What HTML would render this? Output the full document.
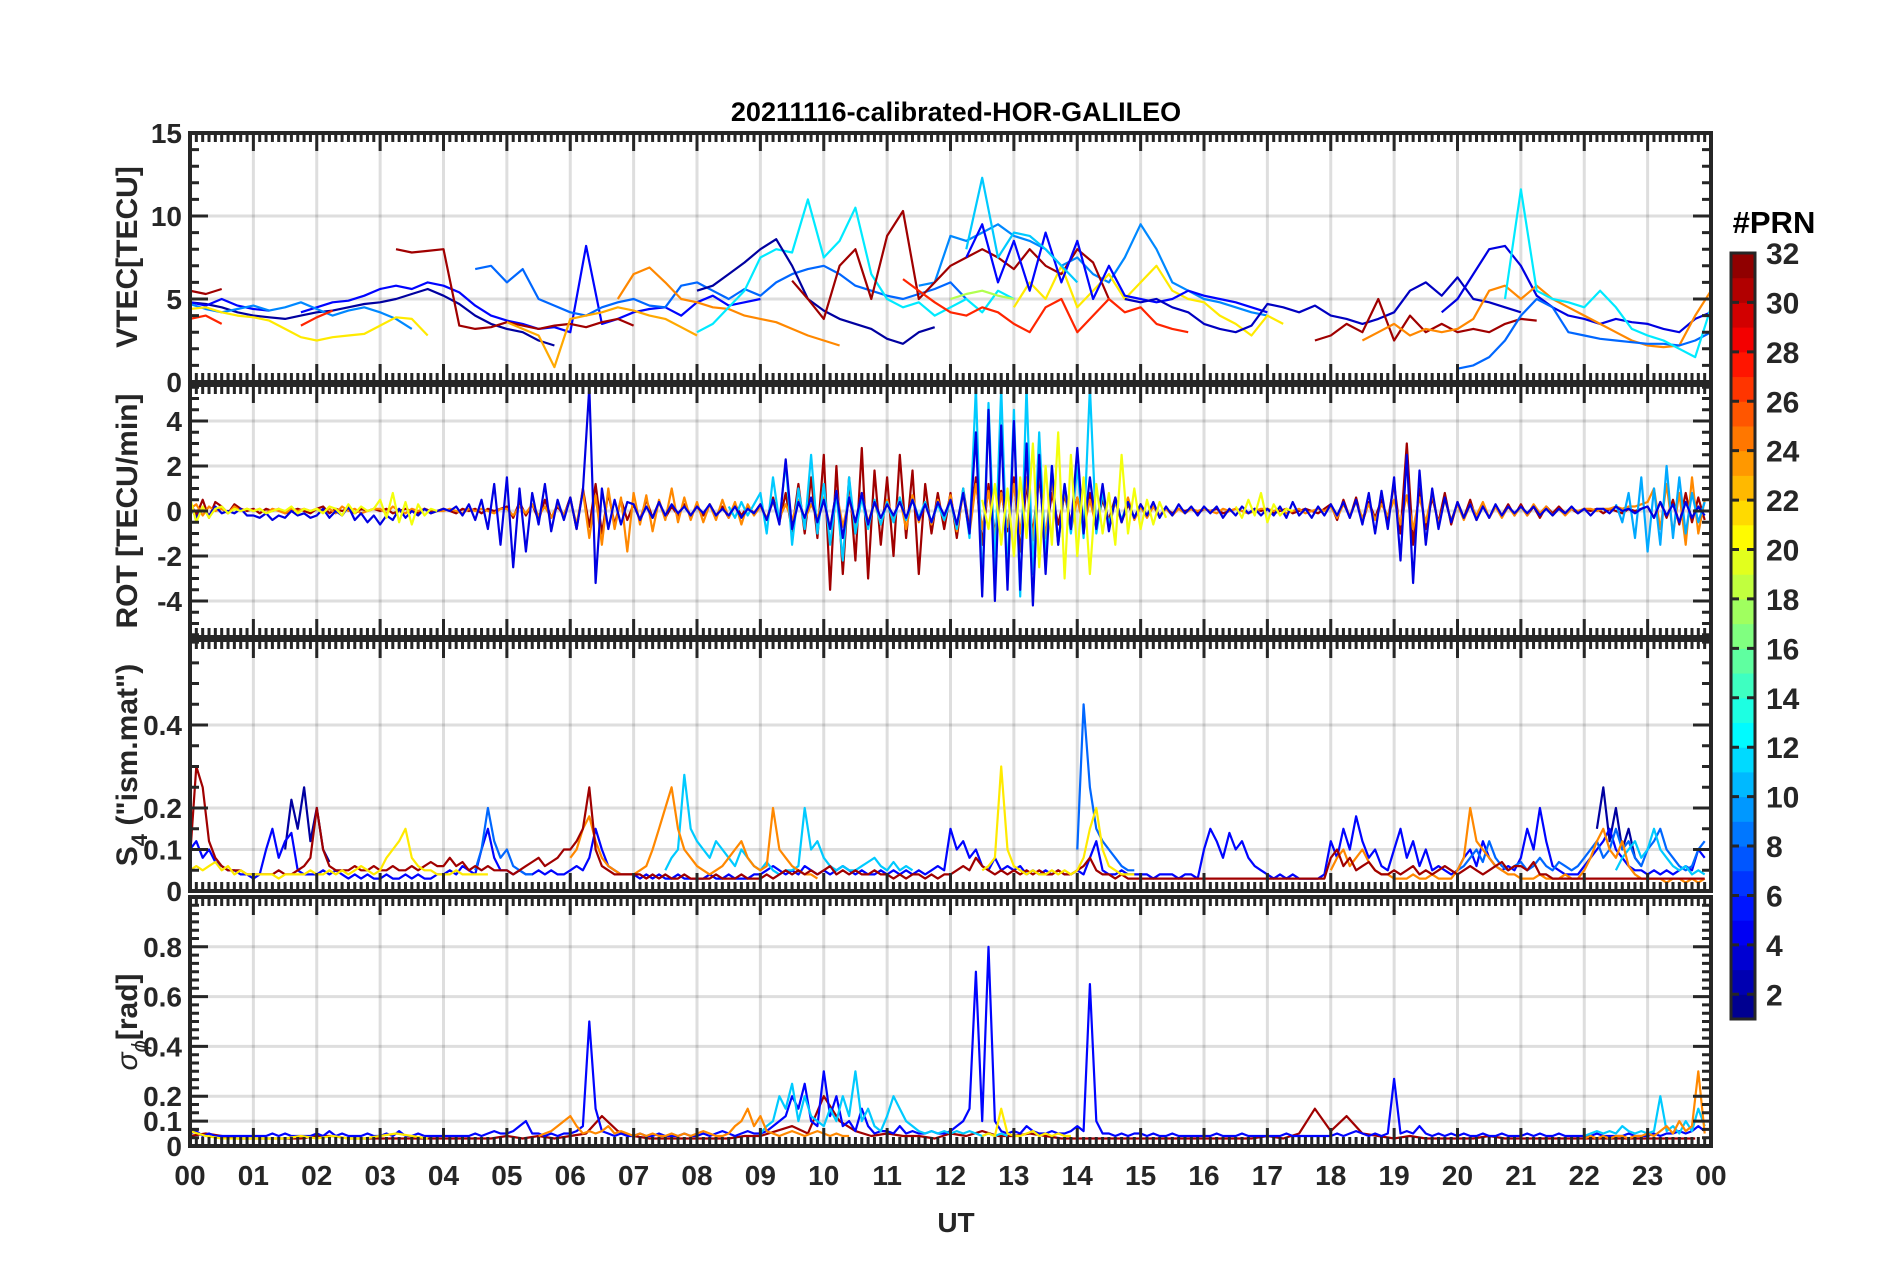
<!DOCTYPE html>
<html><head><meta charset="utf-8"><style>
html,body{margin:0;padding:0;background:#fff;}
svg{display:block;font-family:"Liberation Sans",sans-serif;}
</style></head><body>
<svg id="fig" width="1902" height="1272" viewBox="0 0 1902 1272" xmlns="http://www.w3.org/2000/svg">
<rect x="0" y="0" width="1902" height="1272" fill="#fff"/>
<text x="956" y="121" text-anchor="middle" font-size="27" font-weight="bold" fill="#000">20211116-calibrated-HOR-GALILEO</text>
<text x="956" y="1232" text-anchor="middle" font-size="28" font-weight="bold" fill="#262626">UT</text>
<text transform="translate(137,257) rotate(-90)" text-anchor="middle" font-size="30" font-weight="bold" fill="#262626">VTEC[TECU]</text>
<text transform="translate(137,511) rotate(-90)" text-anchor="middle" font-size="30" font-weight="bold" fill="#262626">ROT [TECU/min]</text>
<text transform="translate(137,765) rotate(-90)" text-anchor="middle" font-size="30" font-weight="bold" fill="#262626">S<tspan dy="10" font-size="22">4</tspan><tspan dy="-10"> ("ism.mat")</tspan></text>
<text transform="translate(137,1022) rotate(-90)" text-anchor="middle" font-size="30" font-weight="bold" fill="#262626"><tspan font-weight="normal" font-style="italic">σ</tspan><tspan dy="10" font-size="22" font-style="italic" font-weight="normal">ϕ</tspan><tspan dy="-10">[rad]</tspan></text>
<text x="1774" y="233" text-anchor="middle" font-size="31" font-weight="bold" fill="#000">#PRN</text>
<g id="grids"></g>
<g id="series"></g>
<g id="axes"></g>
<g id="cbar"></g>
</svg>
<script>
// ---------- data (hours, values) ----------
// VTEC segments, step 0.25 h
const vtecPrn   = [2,5,5,9,21,31,31,27,27,8,9,23,24,12,2,31,27,18,21,5,3,4,31,24,8,12,11];
const vtecStart = [0,0,1.75,0,0,0,3.25,0,1.75,4.5,11.5,5.0,6.75,8.0,8.0,9.5,11.25,12.0,13.0,12.25,14.75,19.75,17.75,18.5,20.0,20.75,12.25];
const vtecValues = [
 [4.8,4.7,4.5,4.2,4.0,3.9,3.8,4.0,4.2,4.3,4.5,4.7,4.8,5.0,5.3,5.6,5.2,4.7,4.0,3.5,3.2,3.0,2.5,2.2],
 [4.8,4.6,5.0,4.6,4.4,4.3],
 [4.2,4.5,4.8,4.9,5.2,5.6,5.8,5.6,6.0,5.8,5.4,4.6,4.0,3.7,3.5,3.2,3.3,3.0,8.2,3.5,3.8,4.2,4.4,4.5,4.0,4.8,5.2,4.6,4.8,5.0],
 [4.7,4.4,4.2,4.4,4.6,4.3,4.5,4.8,4.4,4.0,4.3,4.5,4.2,3.8,3.2],
 [4.4,4.5,4.2,4.0,3.9,3.7,3.2,2.7,2.5,2.7,2.8,2.9,3.4,3.9,3.8,2.8],
 [5.5,5.3,5.6],
 [8.0,7.8,7.9,8.0,3.4,3.2,3.3,3.6,3.4,3.2,3.4,3.5,3.3,3.6,3.8,3.4],
 [3.8,4.0,3.5],
 [3.4,3.9,4.3],
 [6.8,7.0,6.0,6.8,5.0,4.6,4.2,4.0,4.5,4.8,5.0,4.6,4.5,5.8,6.0,5.5,5.0,5.6,5.2,6.0,6.5,6.8,7.0,6.5,5.8,5.5,5.2,5.0,5.3,5.6,6.0,5.0],
 [5.8,6.0,8.8,8.5,9.0,9.5,8.8,8.5,8.0,7.0,7.5,6.5,6.0,7.5,9.5,8.0,6.0,5.5,5.0,4.8,4.5,4.2,4.0],
 [3.6,3.2,2.8,0.9,3.8,4.0,4.2,4.5,4.3,4.0,3.8,3.3,2.8],
 [5.0,6.5,6.9,6.0,5.0,4.8,4.5,4.4,4.0,3.8,3.6,3.2,2.8,2.5,2.2],
 [3.0,3.5,4.5,5.5,7.5,8.0,7.8,11.0,7.5,8.5,10.5,6.5,5.0,4.5,4.8,4.0,4.5,5.0,4.2,5.5,5.0],
 [5.5,5.8,6.5,7.2,8.0,8.6,7.0,5.0,4.3,3.8,3.5,3.2,2.6,2.3,3.0,3.3],
 [6.1,5.0,3.8,7.0,8.0,5.0,8.8,10.3,5.0,6.0,7.0,7.5,8.0,7.5,6.8,8.0,7.0,6.5,8.0,7.2,5.0],
 [6.2,5.5,4.8,4.2,4.0,4.5,4.2,3.5,3.0,4.5,5.0,3.0,4.0,5.0,4.2,4.5,3.5,3.2,3.0],
 [5.0,5.3,5.5,5.2,5.0],
 [4.5,6.0,5.0,7.0,4.5,5.5,6.5,5.0,6.0,7.0,5.5,5.0,4.8,4.0,3.5,2.8,4.0,3.5],
 [7.5,9.5,6.0,8.5,5.5,9.0,6.0,8.5,5.0,7.0,5.2,5.0,4.8,5.0,5.5,5.2,5.0,4.8,4.5,4.2],
 [5.0,4.8,5.0,4.5,4.2,3.5,3.2,3.0,3.4,4.7,4.5,4.2,4.6,4.0,3.8,3.5,3.8,4.2,5.5,6.0,5.2,6.3,5.0,4.8,4.5,4.2],
 [4.2,5.0,6.5,8.0,8.2,7.0,5.2,4.5,4.0,3.8,3.5,3.8,3.6,3.5,3.2,3.0,3.8,4.2],
 [2.5,2.8,3.5,3.0,5.0,2.5,4.0,3.0,3.5,3.0,3.2,3.0,3.5,3.8,3.7],
 [2.5,3.0,3.5,2.8,3.2,3.0,3.2,3.8,5.5,5.8,5.0,5.8,5.0,4.5,4.0,3.5,3.0,2.5,2.2,2.1,2.2,4.0,5.5],
 [0.8,1.0,1.5,2.5,4.0,5.0,4.5,3.0,2.8,2.6,2.5,2.4,2.3,2.3,2.2,2.5,3.0],
 [5.0,11.6,5.5,5.0,4.8,4.5,5.5,4.5,3.2,2.8,2.5,2.0,1.5,4.5],
 [8.0,12.3,7.5,9.0,8.8,8.0,7.0,6.0]
];
const vtecStep = 0.25;

// ROT segments, step 0.1 h
const rotPrn   = [31,24,11,10,4,20,20,20];
const rotStart = [0,0,8.5,22.5,0,0,12.5,16.5];
const rotValues = [
 [.4,-.2,.5,-.3,.4,.2,-.1,.3,.1,0, .1,-.1,.1,0,.1,-.1,0,.1,0,-.1, .1,.2,-.1,.1,0,.1,-.1,.1,0,.1, 0,.1,-.1,0,.1,0,-.1,.1,0,0,
  .1,0,-.1,.1,0,.1,-.1,.1,0,.1, .2,-.3,.4,-.2,.3,-.4,.5,-.3,.2,-.2, .6,-.8,1,-.7,1.2,-1,.8,-.6,.5,-.4, .3,-.4,.5,-.3,.4,-.3,.2,-.2,.3,-.2,
  .2,-.2,.3,-.2,.2,-.3,.3,-.2,.2,-.1, .3,-.4,.6,-.5,.8,-.9,1.2,-1,1.5,-1.2, 2.5,-3.5,2,-2.8,1.5,-2.2,2.8,-3,1.8,-1.5, 1.5,-2,2.5,-1.2,1.8,-2.8,1.2,-1,.8,-.8,
  .8,-1.2,1,-.8,1.5,-1.5,1.2,-1,.9,-.9, 1.5,-1.8,1.2,-1,1.5,-1.2,.8,-.6,.7,-.5, .6,-.5,.8,-.6,.5,-.4,.6,-.5,.3,-.3, .3,-.2,.2,-.2,.1,-.1,.1,0,.1,-.1,
  .1,0,.1,-.1,0,.1,0,-.1,.1,0, .1,-.1,0,.1,-.1,0,.1,0,-.1,.1, .3,-.4,.5,-.3,.6,-.5,.4,-.3,.5,-.4, 1.2,-1,3,-1.5,1,-.8,.6,-.5,.8,-.6,
  .4,-.3,.5,-.4,.3,-.3,.2,-.2,.3,-.2, .3,-.2,.2,-.3,.2,-.1,.2,-.1,.1,-.1, .1,0,.1,-.1,.1,0,-.1,.1,0,.1, .2,-.3,.4,-.3,.5,-.6,.8,-.5,.6,-.4],
 [.1,.3,-.2,.2,0,.1,-.1,.2,0,.1, 0,.1,-.1,.1,0,-.1,.1,0,.1,0, .1,0,.1,-.1,.2,0,.1,-.1,0,.1, .1,-.1,.2,0,-.1,.1,0,.1,-.1,0,
  0,.1,0,-.1,.1,0,.1,0,-.1,.1, .1,-.2,.2,-.1,.3,-.2,.2,-.3,.3,-.2, .5,-.6,.9,-1.2,.7,-1.5,1,-.8,.6,-1.8, .8,-.6,.7,-.9,.5,-.4,1,-.5,.6,-.4,
  .4,-.5,.3,-.4,.5,-.3,.4,-.6,.3,-.2, .2,-.3,.4,-.3,.3,-.4,.5,-.4,.3,-.3, .6,-.8,.9,-.7,.5,-.6,.8,-.5,.4,-.6, .5,-.4,.6,-.8,.7,-.5,.4,-.6,.5,-.4,
  .7,-.9,.8,-1,1.2,-.8,.9,-1.1,.8,-.7, 1.2,-1,1.5,-1.3,1.8,-1.2,1.4,-1.5,1,-.9, .6,-.8,.5,-.7,.9,-.6,.4,-.5,.6,-.4, .2,-.3,.2,-.2,.1,-.2,.1,-.1,.1,0,
  .1,0,-.1,.1,0,.1,0,-.1,0,.1, .1,0,.1,-.1,0,.1,-.1,0,.1,0, .2,-.3,.3,-.2,.4,-.3,.3,-.4,.3,-.2, .5,-.6,.7,-.8,.6,-.5,.8,-.6,.5,-.4,
  .3,-.4,.3,-.2,.4,-.3,.2,-.3,.2,-.2, .2,-.2,.3,-.1,.2,-.2,.1,-.2,.1,0, .1,.1,0,.1,.1,.2,.1,.2,.2,.3, .4,1,-.8,1.2,-1,.8,-1.5,1.5,-1,.5],
 [.2,-.3,.4,-.2,.3, .8,-1,1.5,-.5,2.2,-1.5,1,-.8,2.5,-1, 1.2,-1.5,.8,-2.2,1.5,-1,.6,-.8,.5,-.6, .4,-.5,.6,-.4,.5,-.3,.4,-.5,.3,-.4,
  .5,-.8,1,-1.2,5.5,-3.5,4.8,-2.5,5.5,-3, 4.5,-3.8,5.5,-2.8,3.5,-2.2,2,-1.5,1.2,-1, 2,-1.2,5.5,-1,.8,-.6,.5,-.4,.4,-.3],
 [.3,-.5,.8,-1.2,1.5,-1.8,1,-1.5,2,-1.2,1.5,-1,.8,-.5,.4],
 [.2,-.3,.1,-.2,.2,-.1,0,-.1,.1,-.2, -.2,-.3,-.1,-.4,-.2,-.3,0,-.2,-.1,-.3, -.2,.1,-.3,0,-.2,.2,-.4,-.1,-.5,-.2, -.6,-.2,-.4,.1,-.3,0,-.2,.1,-.1,0,
  .1,0,.2,-.2,.3,-.4,.5,-.8,1.2,-1.5, 1.5,-2.5,1,-1.8,.8,-.6,1.2,-.9,.5,-.4, .6,-.8,.9,5.5,-3.2,1,-.8,.5,-.6,.4, .3,-.4,.2,-.3,.4,-.2,.3,-.1,.2,-.2,
  .2,-.1,.3,-.2,.1,-.2,.2,-.3,.1,-.1, .3,-.4,.5,-.6,2.3,-.8,.4,-.3,.6,-.5, .5,-.8,.9,-1.2,.6,-.5,.8,-.6,.4,-.3, .3,-.2,.4,-.3,.5,-.4,.3,-.5,.4,-.2,
  .5,-.6,.8,-1,3.5,-3.8,4.5,-4,3.8,-3.5, 4,-3.5,3,-4.2,2.5,-2.8,2,-1.5,1.2,-.8, 2.8,-1,1.5,-.8,1.2,-.9,.6,-.5,.4,-.3, .3,-.2,.4,-.3,.2,-.2,.3,-.1,.2,-.2,
  .2,-.1,.2,-.3,.1,-.2,.2,-.1,.1,-.2, .1,-.2,.2,-.3,.4,-.2,.1,-.3,.2,-.2, .3,-.2,.4,-.3,.5,-.6,.8,-1,.9,-.8, 1.5,-2.2,2.5,-3.2,1.8,-1.5,1,-.8,.6,-.5,
  .4,-.3,.3,-.4,.2,-.3,.3,-.2,.2,-.1, .2,-.1,.2,-.2,.1,-.2,.1,-.1,.2,-.1, .1,-.2,.1,.1,-.1,.2,0,.1,-.1,.1, .2,-.3,.4,-.2,.3,-.5,.4,-.3,.2,-.2],
 [.6,-.5,.2,-.3,.1,.2,-.1,.1,0,.1, 0,.1,-.1,0,.1,0,.2,-.1,.1,0, .1,-.1,.2,.1,-.2,.3,-.1,.2,0,.1, .5,-.3,.8,-.5,.4,-.6,.3,-.2,.1,0],
 [.5,-.8,1.2,-1.5,1,-2,1.5,-1.2,3,-2.5, 2,-1.5,3.5,-3,2.5,-2,1.5,-2.8,1.2,-1, .8,-1.5,2.5,-1,1,-.8,.5,-.6,.4,-.3],
 [.2,-.3,.5,-.2,.8,-.5,.3,-.2,.1,0]
];
const rotStep = 0.1;

// S4 segments, step 0.1 h
const s4Prn   = [2,2,5,8,8,8,11,11,24,24,31,21,21];
const s4Start = [1.5,22.2,0,4.5,14,20,7.5,22.5,6,18,0,0,12.5];
const s4Values = [
 [.1,.22,.15,.25,.12,.2,.1,.07],
 [.15,.25,.12,.2,.1,.15,.08,.06],
 [.1,.12,.08,.1,.07,.06,.05,.05,.04,.04, .03,.04,.1,.15,.08,.12,.14,.05,.04,.04, .04,.05,.04,.05,.04,.03,.04,.03,.04,.03, .03,.04,.03,.03,.04,.03,.04,.03,.03,.04,
  .04,.05,.04,.06,.05,.04,.1,.15,.08,.05, .05,.04,.05,.04,.04,.05,.04,.05,.04,.04, .05,.06,.05,.08,.15,.1,.06,.05,.04,.04, .04,.03,.04,.03,.04,.03,.03,.04,.03,.03,
  .03,.03,.04,.03,.03,.04,.03,.03,.03,.04, .04,.05,.06,.05,.04,.05,.04,.06,.05,.04, .05,.04,.05,.06,.05,.04,.05,.04,.04,.05, .04,.05,.04,.05,.04,.05,.04,.05,.06,.05,
  .15,.1,.12,.08,.1,.06,.05,.08,.05,.06, .05,.06,.04,.05,.04,.05,.04,.05,.04,.04, .05,.04,.08,.12,.05,.04,.04,.05,.04,.04, .04,.04,.03,.04,.04,.04,.03,.04,.04,.03,
  .1,.15,.12,.08,.14,.1,.12,.08,.06,.05, .04,.03,.04,.03,.04,.03,.03,.03,.03,.04, .12,.08,.15,.1,.18,.12,.08,.1,.06,.05, .1,.15,.08,.12,.06,.1,.05,.06,.05,.04,
  .05,.08,.1,.06,.12,.08,.06,.05,.06,.05, .08,.15,.1,.2,.12,.06,.05,.04,.04,.04, .06,.08,.1,.12,.15,.1,.08,.06,.05,.05, .04,.05,.04,.05,.04,.05,.06,.05,.1,.08],
 [.05,.1,.2,.12,.08,.1,.06,.05,.04,.04],
 [.1,.45,.25,.15,.12,.1,.08,.06,.05,.05],
 [.05,.06,.08,.1,.07,.12,.08,.06,.05,.06, .07,.05,.06,.08,.06,.05,.07,.06,.05,.06, .08,.1,.12,.08,.1,.15,.1,.12,.08,.06, .1,.12,.15,.1,.08,.06,.05,.06,.1,.12],
 [.05,.08,.1,.28,.15,.12,.1,.08,.12,.1, .08,.06,.1,.08,.06,.05,.07,.05,.04,.05, .05,.06,.2,.1,.12,.08,.06,.05,.06,.05, .05,.06,.07,.08,.06,.05,.07,.05,.06,.05],
 [.05,.08,.1,.12,.08,.1,.15,.1,.08,.06,.05,.06,.04,.05,.04],
 [.08,.1,.15,.18,.12,.08,.06,.05,.04,.04, .04,.05,.06,.1,.15,.2,.25,.15,.1,.08, .06,.05,.04,.05,.06,.08,.1,.12,.08,.06, .05,.06,.2,.1,.08,.06,.05,.04,.04,.03],
 [.05,.08,.1,.06,.08,.1,.07,.05,.04,.04, .03,.03,.03,.04,.03,.03,.04,.03,.03,.03, .05,.08,.2,.12,.1,.08,.06,.05,.04,.04, .03,.03,.03,.04,.03,.03,.03,.04,.03,.03,
  .05,.08,.12,.15,.1,.08,.12,.06,.04,.03, .03,.03,.03,.02,.03,.03,.02,.03,.02,.03],
 [.08,.3,.25,.12,.08,.06,.05,.05,.05,.04, .04,.04,.04,.04,.05,.04,.04,.05,.06,.08, .2,.1,.06,.05,.05,.05,.06,.05,.05,.06, .05,.05,.06,.05,.05,.06,.05,.06,.07,.06,
  .06,.08,.06,.07,.05,.06,.05,.06,.05,.05, .05,.04,.05,.06,.07,.08,.06,.07,.08,.1, .1,.12,.15,.25,.1,.06,.05,.04,.04,.04, .04,.04,.03,.04,.03,.04,.03,.03,.04,.03,
  .03,.03,.03,.04,.03,.03,.03,.04,.03,.03, .03,.04,.03,.04,.05,.04,.05,.04,.05,.04, .05,.06,.04,.05,.04,.05,.04,.04,.05,.04, .04,.03,.04,.03,.04,.04,.03,.04,.03,.04,
  .04,.05,.06,.05,.08,.06,.05,.04,.05,.04, .05,.04,.05,.04,.05,.04,.04,.05,.04,.04, .05,.06,.08,.05,.04,.04,.03,.04,.03,.03, .03,.03,.03,.03,.03,.03,.03,.03,.03,.03,
  .03,.03,.03,.03,.03,.03,.03,.03,.03,.03, .03,.03,.03,.03,.03,.03,.03,.03,.03,.03, .08,.1,.06,.08,.05,.06,.07,.05,.04,.04, .05,.04,.05,.06,.04,.05,.04,.05,.06,.05,
  .04,.05,.06,.05,.04,.05,.06,.07,.05,.06, .06,.05,.07,.04,.04,.03,.03,.03,.03,.03, .03,.03,.03,.03,.03,.03,.03,.03,.03,.03, .03,.03,.03,.03,.03,.03,.03,.03,.03,.03],
 [.05,.06,.05,.06,.07,.05,.06,.04,.05,.04, .04,.04,.04,.04,.03,.04,.04,.04,.04,.05, .04,.04,.05,.04,.05,.04,.05,.06,.05,.04, .05,.08,.1,.12,.15,.08,.06,.05,.05,.04, .04,.04,.05,.04,.04,.04,.04,.04],
 [.05,.06,.08,.3,.1,.06,.05,.04,.05,.04, .04,.05,.04,.05,.04,.05,.08,.15,.2,.1, .06,.05,.04,.04,.04]
];
const s4Step = 0.1;

// sigma-phi segments
const sigPrn   = [31,5,11,11,24,24,21,21];
const sigStart = [0,0,9,22,5.5,22,0,12.5];
const sigStep  = [0.25,0.1,0.1,0.1,0.1,0.1,0.25,0.1];
const sigValues = [
 [.04,.05,.04,.03,.03,.03,.03,.03, .04,.04,.03,.03,.03,.03,.03,.03, .03,.03,.03,.03,.04,.03,.04,.03, .04,.05,.12,.06,.04,.03,.03,.03,
  .03,.03,.03,.04,.04,.06,.08,.05, .2,.1,.06,.04,.05,.04,.04,.03, .05,.04,.06,.04,.04,.05,.04,.03, .03,.03,.03,.03,.03,.03,.03,.03,
  .03,.03,.03,.03,.04,.03,.05,.15, .06,.12,.05,.04,.03,.04,.03,.03, .03,.03,.04,.03,.03,.03,.03,.03, .03,.03,.03,.03,.03,.03,.03,.03],
 [.05,.06,.04,.05,.04,.04,.04,.04,.04,.04, .04,.04,.04,.05,.04,.05,.04,.04,.04,.04, .05,.04,.06,.04,.05,.04,.04,.04,.05,.04, .04,.05,.04,.06,.04,.04,.05,.04,.04,.04,
  .04,.04,.04,.04,.04,.05,.04,.05,.06,.05, .05,.06,.08,.1,.05,.05,.04,.05,.04,.05, .05,.06,.08,.5,.15,.06,.05,.04,.05,.04, .04,.05,.04,.04,.05,.04,.04,.04,.05,.04,
  .04,.05,.04,.05,.06,.05,.04,.05,.06,.05, .05,.06,.08,.1,.12,.2,.15,.25,.1,.08, .3,.12,.2,.08,.1,.06,.15,.08,.05,.06, .06,.05,.08,.05,.06,.05,.05,.06,.05,.05,
  .06,.08,.1,.15,.7,.1,.8,.1,.06,.05, .06,.05,.08,.06,.05,.05,.06,.05,.05,.06, .08,.06,.65,.1,.05,.05,.04,.05,.04,.05, .05,.04,.05,.04,.04,.05,.04,.04,.04,.04,
  .04,.04,.05,.04,.04,.04,.05,.04,.04,.04, .04,.04,.04,.05,.04,.04,.04,.04,.04,.04, .04,.05,.04,.05,.06,.05,.04,.05,.04,.05, .27,.05,.06,.05,.08,.05,.04,.05,.04,.05,
  .04,.05,.04,.04,.05,.04,.04,.05,.04,.04, .04,.05,.04,.05,.04,.04,.05,.04,.04,.04, .04,.04,.05,.04,.04,.04,.04,.05,.04,.04, .04,.05,.04,.05,.05,.06,.05,.06,.08,.06],
 [.05,.08,.1,.2,.15,.25,.1,.2,.12,.1, .08,.15,.1,.2,.12,.3,.1,.15,.08,.06, .12,.2,.15,.1,.08,.06,.05,.06,.05,.06, .05,.06,.05,.06,.05,.04,.05,.04,.05,.04],
 [.04,.05,.06,.05,.06,.05,.08,.06,.05,.06, .05,.06,.2,.06,.08,.05,.1,.06,.15,.08],
 [.04,.05,.06,.08,.1,.12,.08,.05,.06,.05, .06,.08,.05,.06,.05,.04,.05,.04,.05,.04, .04,.05,.04,.05,.04,.05,.06,.05,.04,.04, .05,.08,.1,.15,.08,.12,.06,.05,.04,.05, .06,.05,.04,.05,.06,.05,.04,.05,.04,.04],
 [.03,.04,.03,.04,.03,.04,.04,.03,.04,.04, .05,.04,.06,.08,.05,.1,.06,.08,.3,.05],
 [.06,.04,.03,.03,.03,.03,.03,.04,.03,.04,.03,.03,.04,.05,.04,.03],
 [.04,.05,.04,.15,.05,.04,.04,.05,.06,.04,.05,.04,.05,.04,.04]
];

const hourLabels = ["00","01","02","03","04","05","06","07","08","09","10","11","12","13","14","15","16","17","18","19","20","21","22","23","00"];
const vtecTicks = [0,5,10,15];
const rotTicks  = [-4,-2,0,2,4];
const s4Ticks   = [0,0.1,0.2,0.4];
const sigTicks  = [0,0.1,0.2,0.4,0.6,0.8];
const cbarTicks = [2,4,6,8,10,12,14,16,18,20,22,24,26,28,30,32];

// ---------- layout ----------
const NS = "http://www.w3.org/2000/svg";
const X0 = 190, X1 = 1711;
const panels = [
 {name:"vtec", top:133, bot:382, min:0, max:15, ticks:vtecTicks, minor:1, segPrn:vtecPrn, segStart:vtecStart, segVals:vtecValues, step:()=>vtecStep},
 {name:"rot", top:385, bot:637, min:-5.6, max:5.6, ticks:rotTicks, minor:0.5, segPrn:rotPrn, segStart:rotStart, segVals:rotValues, step:()=>rotStep},
 {name:"s4", top:640, bot:891, min:0, max:0.605, ticks:s4Ticks, minor:0.05, segPrn:s4Prn, segStart:s4Start, segVals:s4Values, step:()=>s4Step},
 {name:"sigma", top:897, bot:1146, min:0, max:1, ticks:sigTicks, minor:0.2/6, segPrn:sigPrn, segStart:sigStart, segVals:sigValues, step:(i)=>sigStep[i]}
];
const xScale = h => X0 + h/24*(X1-X0);
function yScale(p, v){ return p.bot - (v-p.min)/(p.max-p.min)*(p.bot-p.top); }
function jet(f){
  const c = t => Math.round(255*Math.max(0, Math.min(1, t)));
  return `rgb(${c(1.5-Math.abs(4*f-3))},${c(1.5-Math.abs(4*f-2))},${c(1.5-Math.abs(4*f-1))})`;
}
const prnColor = prn => jet((prn-1)/31);
function mk(tag, attrs, parent){
  const e = document.createElementNS(NS, tag);
  for (const k in attrs) e.setAttribute(k, attrs[k]);
  parent.appendChild(e); return e;
}
const svg = document.getElementById("fig");
const gG = document.getElementById("grids"), gS = document.getElementById("series"), gA = document.getElementById("axes"), gC = document.getElementById("cbar");
const defs = mk("defs", {}, svg);
const AX = "#262626";

panels.forEach((p, pi) => {
  const cp = mk("clipPath", {id:"clip"+pi}, defs);
  mk("rect", {x:X0, y:p.top, width:X1-X0, height:p.bot-p.top}, cp);
  // grid
  for (let h=1; h<24; h++){
    const gl = mk("line", {x1:xScale(h), x2:xScale(h), y1:p.top, y2:p.bot, stroke:"#000", "stroke-opacity":"0.13", "stroke-width":3}, gG);
    
    
  }
  p.ticks.forEach(v => {
    const y = yScale(p, v);
    if (v !== p.min){
      const gl = mk("line", {x1:X0, x2:X1, y1:y, y2:y, stroke:"#000", "stroke-opacity":"0.13", "stroke-width":3}, gG);
      
      
    }
    const t = mk("text", {x:182, y:y+10, "text-anchor":"end", "font-size":28, "font-weight":"bold", fill:AX}, gA);
    t.textContent = String(v);
    
    
  });
  // series
  const g = mk("g", {"clip-path":`url(#clip${pi})`}, gS);
  
  
  p.segVals.forEach((vals, si) => {
    const st = p.step(si);
    const pts = vals.map((v,k)=> xScale(p.segStart[si]+k*st).toFixed(1)+","+yScale(p, v).toFixed(1)).join(" ");
    const pl = mk("polyline", {points:pts, fill:"none", stroke:prnColor(p.segPrn[si]), "stroke-width":2.2, "stroke-linejoin":"round"}, g);
    
    
  });
  // ticks
  let d = "";
  for (let k=0; k<=240; k++){
    const x = xScale(k/10), major = (k%10===0), L = major?18:9;
    d += `M${x},${p.top}v${L}M${x},${p.bot}v${-L}`;
  }
  const nMin = Math.round((p.max-p.min)/p.minor);
  const startMinor = Math.ceil(p.min/p.minor - 1e-6);
  for (let k=startMinor; k*p.minor<=p.max+1e-9; k++){
    const v = k*p.minor, y = yScale(p, v);
    const major = p.ticks.some(t=>Math.abs(t-v)<1e-6), L = major?18:9;
    d += `M${X0},${y}h${L}M${X1},${y}h${-L}`;
  }
  const tk = mk("path", {d:d, stroke:AX, "stroke-width":3, fill:"none"}, gA);
  
  
  const box = mk("rect", {x:X0, y:p.top, width:X1-X0, height:p.bot-p.top, fill:"none", stroke:AX, "stroke-width":4}, gA);
  
  
});
// x tick labels
hourLabels.forEach((lab, i) => {
  const t = mk("text", {x:xScale(i), y:1185, "text-anchor":"middle", "font-size":28, "font-weight":"bold", fill:AX}, gA);
  t.textContent = lab;
  
  
});
// colorbar
const CB = {x:1731, w:24, top:253, bot:1019, min:1, max:32};
const cbY = v => CB.bot - (v-CB.min)/(CB.max-CB.min)*(CB.bot-CB.top);
for (let b=1; b<32; b++){
  const r = mk("rect", {x:CB.x, y:cbY(b+1), width:CB.w, height:cbY(b)-cbY(b+1)+0.5, fill:jet((b-0.5)/31)}, gC);
  
  
}
let cd = "";
cbarTicks.forEach(v => {
  const y = cbY(v);
  cd += `M${CB.x},${y}h8M${CB.x+CB.w},${y}h-8`;
  const t = mk("text", {x:1766, y:y+11, "font-size":30, "font-weight":"bold", fill:AX}, gC);
  t.textContent = String(v);
  
  
});
const cbt = mk("path", {d:cd, stroke:AX, "stroke-width":3}, gC);


const cbb = mk("rect", {x:CB.x, y:CB.top, width:CB.w, height:CB.bot-CB.top, fill:"none", stroke:AX, "stroke-width":3}, gC);


</script>
</body></html>
